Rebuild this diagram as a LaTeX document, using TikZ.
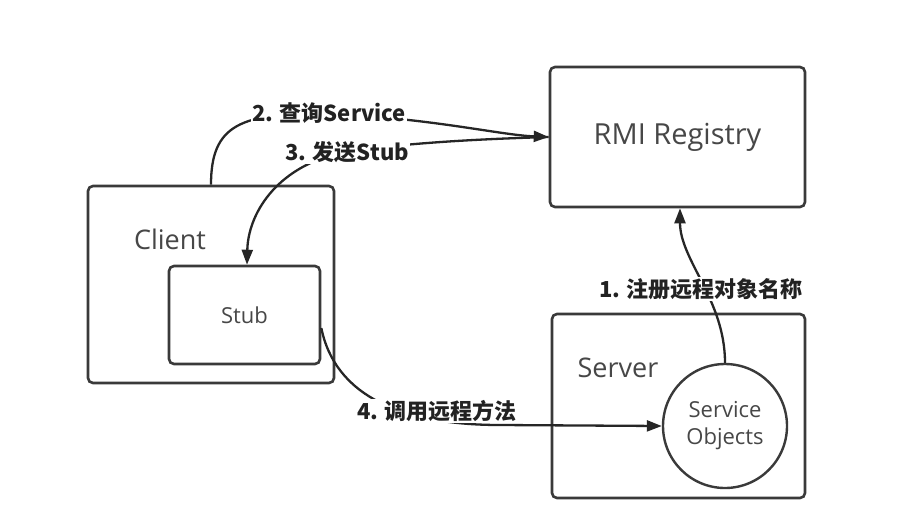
\documentclass[tikz,border=0pt]{standalone}
\usepackage{fontspec}
\setmainfont{Open Sans}
\newfontfamily\cjk{Noto Sans CJK SC}
\usetikzlibrary{arrows.meta}
\definecolor{boxline}{HTML}{3A3A3A}
\definecolor{txt}{HTML}{474747}
\definecolor{lbl}{HTML}{222222}
\begin{document}
\begin{tikzpicture}[x=1pt,y=-1pt,
  box/.style={draw=boxline,line width=2.6pt,rounded corners=5pt,inner sep=0pt,fill=white},
  ttl/.style={text=txt,inner sep=0pt,font=\fontsize{27}{30}\selectfont},
  conn/.style={draw=black!85,line width=2.3pt,-{Triangle[length=15pt,width=11pt]}},
  lab/.style={fill=white,text=lbl,inner sep=1pt,font=\cjk\bfseries\fontsize{22}{25}\selectfont}]
\useasboundingbox (0,0) rectangle (907,512);
\fill[white] (0,0) rectangle (907,512);
% boxes
\node[box,minimum width=246pt,minimum height=197pt] (client) at (211,284.5) {};
\node[ttl] (clientlbl) at (170,239) {Client};
\node[box,minimum width=151pt,minimum height=98pt,text=txt,font=\fontsize{22}{26}\selectfont] (stub) at (244.5,315) {Stub};
\node[box,minimum width=255pt,minimum height=140pt,text=txt,font=\fontsize{29}{32}\selectfont] (rmi) at (677.5,137) {RMI Registry};
\node[box,minimum width=253pt,minimum height=184pt] (server) at (678.5,406) {};
\node[ttl] (serverlbl) at (618,368) {Server};
\node[circle,draw=boxline,line width=2.4pt,minimum size=124pt,inner sep=0pt,fill=white,text=txt,align=center,font=\fontsize{22}{27}\selectfont] (obj) at (725,426) {Service\\Objects};
% connectors
\draw[conn] (obj.north) .. controls (725,300) and (680,260) .. ([xshift=2.5pt]rmi.south);
\draw[conn] (client.north) .. controls (211,125) and (240,112) .. (330,114) .. controls (430,118) and (500,135) .. (rmi.west);
\draw[conn] (rmi.west) .. controls (480,139) and (400,143) .. (340,153) .. controls (275,168) and (248,215) .. ([xshift=2.5pt]stub.north);
\draw[conn] ([yshift=-13pt]stub.east) .. controls (335,395) and (400,425) .. (500,425) -- (obj.west);
% labels
\node[lab] (l1) at (701,289) {1. 注册远程对象名称};
\node[lab] (l2) at (329,113) {2. 查询Service};
\node[lab] (l3) at (347,152) {3. 发送Stub};
\node[lab] (l4) at (437,411) {4. 调用远程方法};
\end{tikzpicture}
\end{document}
